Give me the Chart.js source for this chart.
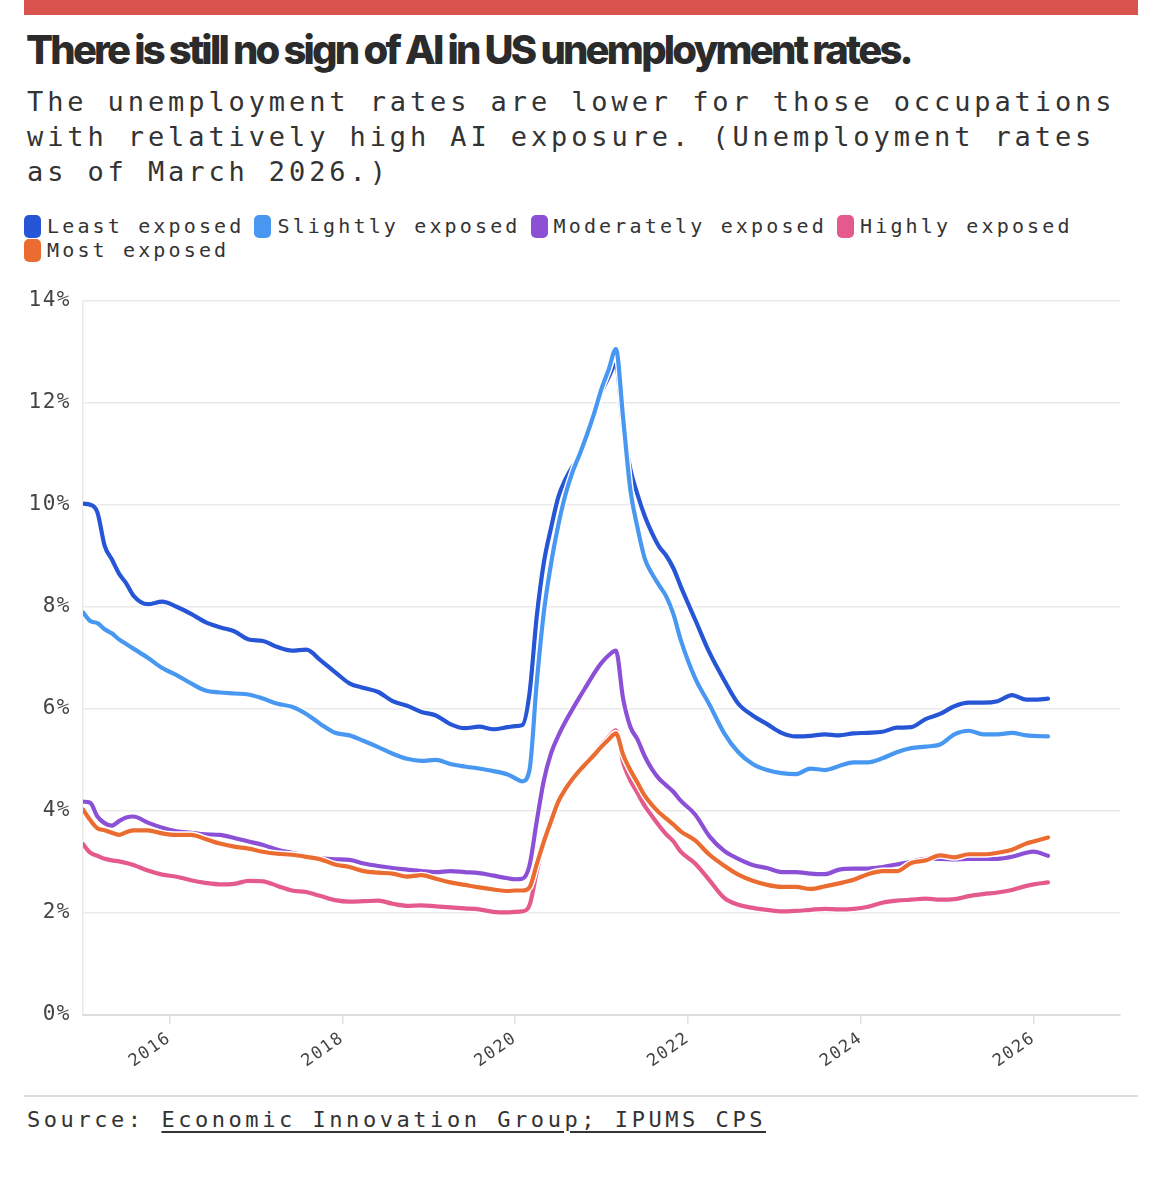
<!DOCTYPE html>
<html>
<head>
<meta charset="utf-8">
<script src="https://cdn.jsdelivr.net/npm/chart.js@4.4.1/dist/chart.umd.min.js"></script>
<style>
body { margin:0; background:#fff; width:1168px; height:1184px; position:relative; overflow:hidden; }
.bar { position:absolute; left:24px; top:0; width:1114px; height:15px; background:#d9534f; }
h1 { position:absolute; left:26px; top:25px; margin:0; font-family:Inter; font-weight:800; font-size:40px; line-height:normal; letter-spacing:-2.8px; color:#2b2b2b; white-space:nowrap; }
.sub { position:absolute; left:27px; top:84px; font-family:'DejaVu Sans Mono'; font-size:27px; letter-spacing:3.9px; line-height:35px; color:#333; white-space:nowrap; }
.legend { position:absolute; left:24px; top:214px; width:1114px; display:flex; flex-wrap:wrap; font-family:'DejaVu Sans Mono'; font-size:20px; letter-spacing:3.15px; color:#333; line-height:24px; }
.item { display:flex; align-items:center; margin-right:10px; }
.sw { width:17px; height:23px; border-radius:5px; margin-right:6px; }
#wrap { position:absolute; left:0; top:276px; width:1168px; height:809px; }
.rule { position:absolute; left:24px; top:1095px; width:1114px; height:2px; background:#dddddd; }
.src { position:absolute; left:27px; top:1107px; font-family:'DejaVu Sans Mono'; font-size:22px; letter-spacing:3.55px; color:#333; white-space:nowrap; }
.src u { text-decoration-thickness:2px; text-underline-offset:4px; }
</style>
</head>
<body>
<div class="bar"></div>
<h1>There is still no sign of AI in US unemployment rates.</h1>
<div class="sub">The unemployment rates are lower for those occupations<br>with relatively high AI exposure. (Unemployment rates<br>as of March 2026.)</div>
<div class="legend" id="legend"></div>
<div id="wrap"><canvas id="chart"></canvas></div>
<div class="rule"></div>
<div class="src">Source: <u>Economic Innovation Group; IPUMS CPS</u></div>

<script>

/* DATA */

const months = [
    '2015-01','2015-02','2015-03','2015-04','2015-05','2015-06','2015-07','2015-08','2015-10','2015-12',
    '2016-02','2016-04','2016-06','2016-08','2016-10','2016-12',
    '2017-02','2017-04','2017-06','2017-08','2017-10','2017-12',
    '2018-02','2018-04','2018-06','2018-08','2018-10','2018-12',
    '2019-02','2019-04','2019-06','2019-08','2019-10','2019-12',
    '2020-01','2020-02','2020-03','2020-04','2020-05','2020-06','2020-07','2020-08','2020-09','2020-10','2020-11','2020-12',
    '2021-01','2021-02','2021-03','2021-04','2021-05','2021-06','2021-07','2021-08','2021-09','2021-10','2021-11','2021-12',
    '2022-02','2022-04','2022-06','2022-08','2022-10','2022-12',
    '2023-02','2023-04','2023-06','2023-08','2023-10','2023-12',
    '2024-02','2024-04','2024-06','2024-08','2024-10','2024-12',
    '2025-02','2025-04','2025-06','2025-08','2025-10','2025-12',
    '2026-01','2026-03'
];

const leastExposed = [
    10.02,10.0,9.85,9.2,8.93,8.65,8.46,8.22,8.05,8.1,
    8.0,7.86,7.7,7.6,7.52,7.36,
    7.33,7.21,7.14,7.16,6.95,6.72,
    6.5,6.41,6.33,6.15,6.06,5.94,
    5.87,5.7,5.62,5.65,5.6,5.64,
    5.66,5.68,6.3,7.8,8.87,9.55,10.15,10.5,10.75,10.95,11.35,11.8,
    12.2,12.5,12.75,11.5,10.7,10.2,9.78,9.45,9.18,9.0,8.75,8.4,
    7.75,7.1,6.57,6.1,5.87,5.7,
    5.53,5.46,5.47,5.5,5.48,5.52,
    5.53,5.55,5.63,5.64,5.8,5.9,
    6.05,6.12,6.12,6.15,6.27,6.18,
    6.18,6.2
];

const slightlyExposed = [
    7.89,7.72,7.68,7.56,7.48,7.36,7.27,7.18,7.0,6.8,
    6.66,6.5,6.36,6.32,6.3,6.28,
    6.2,6.1,6.04,5.9,5.7,5.53,
    5.48,5.37,5.25,5.12,5.02,4.98,
    5.0,4.92,4.87,4.83,4.78,4.71,
    4.64,4.58,4.8,6.5,7.9,8.85,9.6,10.2,10.65,11.0,11.38,11.8,
    12.27,12.65,13.05,11.7,10.3,9.55,8.95,8.65,8.42,8.2,7.85,7.35,
    6.6,6.08,5.53,5.15,4.92,4.8,
    4.74,4.72,4.83,4.8,4.88,4.95,
    4.95,5.03,5.15,5.23,5.26,5.3,
    5.5,5.57,5.5,5.5,5.53,5.48,
    5.47,5.46
];

const moderatelyExposed = [
    4.18,4.16,3.89,3.76,3.71,3.8,3.87,3.89,3.77,3.67,
    3.6,3.57,3.54,3.53,3.47,3.4,
    3.33,3.24,3.18,3.12,3.07,3.05,
    3.04,2.97,2.92,2.88,2.85,2.82,
    2.8,2.82,2.8,2.78,2.73,2.68,
    2.66,2.67,2.93,3.79,4.6,5.13,5.47,5.75,6.0,6.24,6.47,6.7,
    6.9,7.05,7.14,6.2,5.65,5.4,5.07,4.82,4.63,4.5,4.37,4.2,
    3.93,3.5,3.22,3.06,2.94,2.88,
    2.8,2.8,2.77,2.76,2.85,2.87,
    2.87,2.9,2.95,3.0,3.06,3.06,
    3.05,3.06,3.06,3.06,3.1,3.18,
    3.2,3.12
];

const highlyExposed = [
    3.35,3.18,3.12,3.06,3.03,3.01,2.98,2.94,2.83,2.75,
    2.71,2.64,2.59,2.56,2.57,2.63,
    2.62,2.53,2.44,2.41,2.33,2.25,
    2.22,2.23,2.24,2.18,2.14,2.15,
    2.13,2.11,2.09,2.07,2.02,2.01,
    2.02,2.03,2.15,2.8,3.4,3.8,4.18,4.43,4.63,4.82,4.97,5.13,
    5.3,5.45,5.58,4.95,4.6,4.35,4.1,3.9,3.71,3.54,3.4,3.2,
    2.97,2.64,2.3,2.16,2.1,2.06,
    2.03,2.04,2.06,2.08,2.07,2.08,
    2.12,2.2,2.24,2.26,2.28,2.26,
    2.27,2.33,2.37,2.4,2.45,2.53,
    2.56,2.6
];

const mostExposed = [
    4.03,3.82,3.66,3.62,3.57,3.53,3.58,3.62,3.62,3.56,
    3.53,3.53,3.45,3.36,3.3,3.26,
    3.2,3.16,3.14,3.1,3.05,2.95,
    2.9,2.82,2.79,2.77,2.71,2.74,
    2.67,2.6,2.55,2.5,2.46,2.43,
    2.44,2.44,2.5,2.95,3.4,3.8,4.18,4.43,4.63,4.8,4.95,5.1,
    5.26,5.4,5.52,5.1,4.8,4.55,4.3,4.12,3.97,3.85,3.73,3.6,
    3.42,3.14,2.93,2.75,2.63,2.55,
    2.51,2.51,2.47,2.52,2.58,2.65,
    2.76,2.82,2.82,2.98,3.03,3.13,
    3.09,3.15,3.15,3.18,3.24,3.36,
    3.4,3.48
];

const tickYears = [2016,2018,2020,2022,2024,2026];

const series = [
    { name:'Least exposed',      values:leastExposed,      color:'#2656d6' },
    { name:'Slightly exposed',   values:slightlyExposed,   color:'#4898f2' },
    { name:'Moderately exposed', values:moderatelyExposed, color:'#8c50d7' },
    { name:'Highly exposed',     values:highlyExposed,     color:'#e45a8c' },
    { name:'Most exposed',       values:mostExposed,       color:'#eb6c30' }
];

/* HELPERS */

function yearFrac(m){
    const [y, mo] = m.split('-').map(Number);
    return y + (mo - 1) / 12;
}

function points(values){
    return values.map((v, i) => ({ x: yearFrac(months[i]), y: v }));
}

/* LEGEND */

const legend = document.getElementById('legend');
series.forEach(s => {
    const item = document.createElement('div');
    item.className = 'item';
    item.innerHTML = `<span class="sw" style="background:${s.color}"></span><span>${s.name}</span>`;
    legend.appendChild(item);
});

/* CHART */

// each line gets a white halo drawn just under it; later series sit on top
const datasets = [];
series.forEach((s, i) => {
    const base = 2 * (series.length - i);
    const common = {
        data: points(s.values),
        pointRadius: 0,
        cubicInterpolationMode: 'monotone',
        borderJoinStyle: 'round',
        borderCapStyle: 'round',
        fill: false
    };
    datasets.push({ ...common, label: s.name + ' halo', borderColor: '#ffffff', borderWidth: 7, order: base + 1 });
    datasets.push({ ...common, label: s.name, borderColor: s.color, borderWidth: 4.2, order: base });
});

const spacing = {
    id: 'spacing',
    beforeUpdate(c){ c.ctx.letterSpacing = '1.5px'; },
    beforeDraw(c){ c.ctx.letterSpacing = '1.5px'; }
};

new Chart(document.getElementById('chart'), {
    type: 'line',
    data: { datasets: datasets },
    plugins: [spacing],
    options: {
        responsive: true,
        maintainAspectRatio: false,
        animation: false,
        layout: { padding: { top: 20, right: 48, bottom: 0, left: 0 } },
        plugins: {
            legend: { display: false },
            tooltip: { enabled: false }
        },
        scales: {
            x: {
                type: 'linear',
                min: 2015,
                max: 2027,
                afterBuildTicks: s => { s.ticks = tickYears.map(v => ({ value: v })); },
                afterFit: s => { s.height = 70; },
                grid: { drawOnChartArea: false, drawTicks: true, tickLength: 9, color: '#e2e2e2', lineWidth: 1.5 },
                border: { display: true, color: '#dcdcdc', width: 2 },
                ticks: {
                    autoSkip: false,
                    callback: v => String(v),
                    minRotation: 35,
                    maxRotation: 35,
                    padding: 4,
                    color: '#444',
                    font: { family: 'DejaVu Sans Mono', size: 17 }
                }
            },
            y: {
                min: 0,
                max: 14,
                afterFit: s => { s.width = 83; },
                grid: { color: '#e9e9e9', lineWidth: 1.5, drawTicks: false },
                border: { display: true, color: '#eaeaea', width: 1.5 },
                ticks: {
                    stepSize: 2,
                    callback: v => v + '%',
                    padding: 12,
                    color: '#444',
                    font: { family: 'DejaVu Sans Mono', size: 21 }
                }
            }
        }
    }
});

</script>
</body>
</html>
